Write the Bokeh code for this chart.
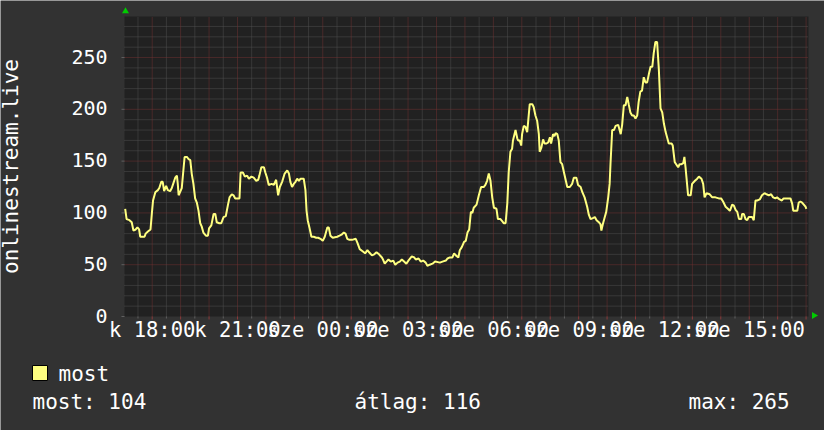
from bokeh.plotting import figure
from bokeh.embed import file_html
from bokeh.resources import INLINE
from bokeh.core.properties import value

# ---------------- data ----------------
hours = [
    17.05, 17.10, 17.20, 17.28, 17.34, 17.42, 17.48, 17.54, 17.58, 17.73, 17.77, 17.85, 17.94, 17.99,
    18.03, 18.11, 18.20, 18.25, 18.32, 18.37, 18.42, 18.49, 18.55, 18.63, 18.69, 18.75, 18.81, 18.87,
    18.90, 18.93, 18.98, 19.04, 19.08, 19.14, 19.22, 19.28, 19.34, 19.39, 19.45, 19.51, 19.57, 19.63,
    19.69, 19.74, 19.80, 19.89, 19.96, 20.00, 20.08, 20.16, 20.22, 20.27, 20.36, 20.43, 20.51, 20.59,
    20.66, 20.72, 20.80, 20.86, 20.92, 21.01, 21.07, 21.11, 21.19, 21.26, 21.34, 21.40, 21.49, 21.57,
    21.66, 21.73, 21.77, 21.84, 21.93, 21.98, 22.04, 22.10, 22.20, 22.28, 22.36, 22.43, 22.49, 22.57,
    22.66, 22.75, 22.81, 22.86, 22.92, 22.98, 23.04, 23.10, 23.16, 23.22, 23.33, 23.39, 23.43, 23.47,
    23.53, 23.60, 23.68, 23.77, 23.84, 23.92, 24.00, 24.07, 24.16, 24.21, 24.27, 24.35, 24.51, 24.59,
    24.66, 24.74, 24.80, 24.86, 24.94, 25.03, 25.16, 25.22, 25.30, 25.40, 25.49, 25.57, 25.63, 25.73,
    25.81, 25.89, 25.98, 26.08, 26.12, 26.18, 26.24, 26.31, 26.39, 26.48, 26.55, 26.63, 26.71, 26.78,
    26.86, 26.94, 27.04, 27.13, 27.22, 27.27, 27.37, 27.45, 27.53, 27.62, 27.68, 27.76, 27.86, 27.95,
    28.12, 28.21, 28.33, 28.39, 28.47, 28.56, 28.62, 28.68, 28.77, 28.82, 28.89, 28.97, 29.03, 29.09,
    29.15, 29.21, 29.26, 29.31, 29.41, 29.49, 29.57, 29.66, 29.72, 29.78, 29.84, 29.90, 29.96, 30.02,
    30.11, 30.16, 30.25, 30.31, 30.37, 30.43, 30.49, 30.54, 30.60, 30.66, 30.69, 30.78, 30.84, 30.87,
    30.93, 30.98, 31.01, 31.07, 31.13, 31.19, 31.25, 31.28, 31.37, 31.42, 31.48, 31.54, 31.60, 31.63,
    31.69, 31.75, 31.80, 31.87, 31.93, 31.99, 32.03, 32.10, 32.15, 32.19, 32.25, 32.30, 32.36, 32.42,
    32.50, 32.60, 32.69, 32.77, 32.83, 32.92, 32.98, 33.07, 33.13, 33.21, 33.30, 33.36, 33.42, 33.50,
    33.57, 33.63, 33.71, 33.77, 33.80, 33.85, 33.91, 33.97, 34.04, 34.09, 34.12, 34.18, 34.24, 34.30,
    34.39, 34.44, 34.48, 34.53, 34.59, 34.65, 34.71, 34.76, 34.82, 34.88, 34.94, 35.00, 35.06, 35.11,
    35.17, 35.23, 35.29, 35.35, 35.41, 35.47, 35.53, 35.59, 35.64, 35.70, 35.76, 35.82, 35.88, 35.94,
    36.00, 36.06, 36.12, 36.17, 36.27, 36.31, 36.38, 36.43, 36.50, 36.55, 36.62, 36.68, 36.72, 36.76,
    36.79, 36.85, 36.94, 36.99, 37.09, 37.17, 37.23, 37.32, 37.38, 37.43, 37.50, 37.61, 37.70, 37.81,
    37.93, 38.01, 38.08, 38.17, 38.25, 38.32, 38.40, 38.46, 38.52, 38.58, 38.64, 38.72, 38.75, 38.81,
    38.87, 38.93, 38.98, 39.10, 39.16, 39.22, 39.28, 39.37, 39.45, 39.54, 39.61, 39.69, 39.77, 39.84,
    39.92, 39.98, 40.07, 40.15, 40.21, 40.39, 40.45, 40.51, 40.55, 40.69, 40.74, 40.80, 40.86, 40.92,
    40.98, 41.01,
]
visitors = [
    104, 94, 93, 91, 83, 84, 86, 84, 77, 77, 80, 82, 84, 100,
    112, 120, 122, 124, 130, 130, 121, 126, 122, 121, 124, 129, 134, 136,
    128, 117, 120, 124, 136, 154, 154, 152, 151, 138, 128, 114, 110, 102,
    90, 87, 81, 78, 78, 85, 88, 99, 99, 91, 90, 90, 96, 97,
    107, 115, 118, 117, 114, 114, 114, 139, 139, 135, 136, 133, 135, 134,
    131, 132, 136, 144, 144, 139, 134, 127, 128, 127, 132, 117, 125, 130,
    138, 141, 138, 130, 125, 128, 130, 133, 131, 133, 133, 122, 102, 93,
    86, 77, 77, 76, 76, 75, 73, 77, 86, 86, 78, 76, 77, 78,
    79, 81, 80, 75, 74, 74, 75, 71, 65, 63, 61, 64, 62, 59,
    60, 62, 60, 57, 55, 51, 53, 55, 53, 54, 50, 52, 53, 55,
    53, 51, 55, 58, 57, 55, 56, 53, 54, 52, 49, 50, 51, 53,
    52, 53, 54, 56, 57, 57, 61, 59, 57, 64, 67, 72, 73, 81,
    84, 101, 100, 105, 108, 117, 125, 125, 127, 131, 138, 131, 115, 105,
    104, 94, 94, 92, 90, 90, 109, 139, 159, 162, 170, 180, 172, 170,
    170, 165, 176, 184, 183, 178, 196, 205, 205, 202, 194, 189, 176, 159,
    163, 171, 167, 167, 168, 173, 167, 176, 174, 177, 176, 170, 149, 147,
    137, 125, 125, 128, 134, 134, 127, 125, 120, 115, 106, 98, 94, 95,
    96, 93, 91, 89, 83, 89, 95, 101, 115, 128, 147, 180, 180, 184,
    185, 180, 176, 185, 204, 204, 212, 205, 197, 194, 194, 191, 194, 207,
    217, 218, 231, 226, 226, 234, 241, 241, 254, 265, 265, 239, 201, 197,
    186, 178, 172, 167, 167, 165, 149, 147, 144, 147, 147, 148, 154, 144,
    135, 117, 117, 128, 131, 133, 135, 133, 128, 115, 119, 118, 115, 115,
    114, 114, 111, 106, 104, 102, 108, 107, 103, 101, 94, 94, 99, 99,
    94, 93, 96, 96, 93, 112, 112, 113, 117, 119, 118, 117, 118, 115,
    114, 115, 113, 112, 114, 114, 114, 109, 102, 102, 110, 111, 110, 108,
    106, 104,
]

y_ticks = [0, 50, 100, 150, 200, 250]
y_minor_ticks = [10, 20, 30, 40, 60, 70, 80, 90, 110, 120, 130, 140, 160, 170, 180, 190,
                 210, 220, 230, 240, 260, 270, 280]
hour_ticks = list(range(18, 42))
half_hour_ticks = [h + 0.5 for h in range(17, 41)]
label_hours = [18, 21, 24, 27, 30, 33, 36, 39]
label_texts = ["k 18:00", "k 21:00", "sze 00:00", "sze 03:00",
               "sze 06:00", "sze 09:00", "sze 12:00", "sze 15:00"]

series_name = "most"
stat_names = ["most", "átlag", "max"]
stat_values = [104, 116, 265]
vertical_title = "onlinestream.live"

# ---------------- geometry (page pixels) ----------------
W, H = 824, 430
PX_L, PX_R, PY_T, PY_B = 124, 808, 16, 316      # plot area on the page
X0, X1 = 17.026, 41.085                          # time span shown (hours from Tuesday 00:00)
Y0, Y1 = 0.0, 289.6                              # value span shown
KX = (X1 - X0) / (PX_R - PX_L)                   # data units per pixel
KY = (Y1 - Y0) / (PY_B - PY_T)


def fx(px):
    return X0 + (px - PX_L) * KX


def fy(py):
    return Y0 + (PY_B - py) * KY


FONT = value("DejaVu Sans Mono")
BG = "#323232"
CANVAS = "#212121"
LINE = "#ffff80"
WHITE = "#ffffff"
MAJOR = "#713232"
MINOR = "#4f4f4f"

p = figure(width=W, height=H, x_range=(fx(0), fx(W)), y_range=(fy(H), fy(0)),
           output_backend="svg", toolbar_location=None,
           x_axis_location=None, y_axis_location=None, min_border=0,
           background_fill_color=BG, border_fill_color=BG, outline_line_color=None)
p.xgrid.visible = False
p.ygrid.visible = False

# plot area
p.quad(left=[X0], right=[X1], bottom=[Y0], top=[Y1], fill_color=CANVAS, line_color=None)

# minor grid
p.segment(x0=half_hour_ticks, x1=half_hour_ticks, y0=[Y0] * len(half_hour_ticks),
          y1=[Y1] * len(half_hour_ticks), line_color=MINOR, line_width=1, line_dash="1 1")
p.segment(x0=[X0] * len(y_minor_ticks), x1=[X1] * len(y_minor_ticks), y0=y_minor_ticks,
          y1=y_minor_ticks, line_color=MINOR, line_width=1, line_dash="1 1")
# major grid
p.segment(x0=hour_ticks, x1=hour_ticks, y0=[Y0] * len(hour_ticks), y1=[Y1] * len(hour_ticks),
          line_color=MAJOR, line_width=1, line_dash="1 1")
p.segment(x0=[X0] * 5, x1=[X1] * 5, y0=y_ticks[1:], y1=y_ticks[1:],
          line_color=MAJOR, line_width=1, line_dash="1 1")

# tick marks
p.segment(x0=hour_ticks, x1=hour_ticks, y0=[Y0] * len(hour_ticks), y1=[fy(PY_B + 3)] * len(hour_ticks),
          line_color="#8a3a3a", line_width=1)
p.segment(x0=half_hour_ticks, x1=half_hour_ticks, y0=[Y0] * len(half_hour_ticks),
          y1=[fy(PY_B + 2)] * len(half_hour_ticks), line_color="#606060", line_width=1)
p.segment(x0=[fx(PX_L - 3)] * len(y_ticks), x1=[X0] * len(y_ticks), y0=y_ticks, y1=y_ticks,
          line_color="#606060", line_width=1)

# data line
p.line(hours, visitors, line_color=LINE, line_width=2)

# y tick labels
p.text(x=[fx(107)] * len(y_ticks), y=[v + 1 * KY for v in y_ticks], text=[str(v) for v in y_ticks],
       text_font=FONT, text_font_size=value("20px"), text_color=WHITE,
       text_align="right", text_baseline="alphabetic")
# x tick labels
p.text(x=label_hours, y=[fy(329)] * len(label_hours), text=label_texts,
       text_font=FONT, text_font_size=value("20.5px"), text_color=WHITE,
       text_align="center", text_baseline="alphabetic")

# vertical title
p.text(x=[fx(10.3)], y=[fy(166)], text=[vertical_title], angle=1.5707963,
       text_font=FONT, text_font_size=value("21px"), text_color=WHITE,
       text_align="center", text_baseline="alphabetic")

# legend swatch + name
p.quad(left=[fx(32)], right=[fx(47)], top=[fy(365)], bottom=[fy(380)],
       fill_color=LINE, line_color="black", line_width=1)
p.text(x=[fx(58)], y=[fy(373)], text=[series_name], text_font=FONT,
       text_font_size=value("21px"), text_color=WHITE, text_baseline="alphabetic")

# statistics row
p.text(x=[fx(32), fx(354), fx(688)], y=[fy(401.3)] * 3,
       text=[f"{n}: {v}" for n, v in zip(stat_names, stat_values)],
       text_font=FONT, text_font_size=value("21px"), text_color=WHITE, text_baseline="alphabetic")

# green arrow heads at the axis ends
p.scatter(x=[fx(125)], y=[fy(10.8)], marker="triangle", size=7,
          fill_color="#00cc00", line_color=None)
p.scatter(x=[fx(813.5)], y=[fy(315)], marker="triangle", size=7, angle=-1.5707963,
          fill_color="#00cc00", line_color=None)

html = file_html(p, INLINE)
open("out.html", "w").write(html)
